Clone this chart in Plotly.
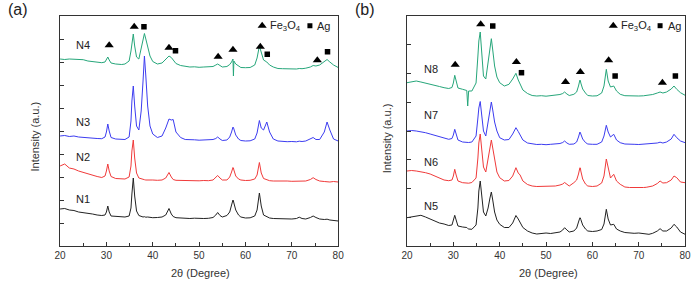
import plotly.graph_objects as go

# ---------------- data ----------------
two_theta = [
    20, 21, 22, 23, 24, 25, 26, 27, 28, 29,
    29.7, 30.0, 30.3, 30.6, 31.0, 32, 32.9, 33.1, 33.3, 34,
    34.9, 35.3, 35.5, 35.8, 36.1, 36.5, 37.0, 37.5, 37.9, 38.2,
    38.5, 38.9, 39.4, 40, 41, 42, 42.8, 43.5, 44.0, 44.4,
    45, 46, 47, 48, 49, 50, 51, 52, 53, 53.6,
    54.0, 54.5, 55, 56, 56.6, 57.0, 57.3, 57.4, 57.5, 57.9,
    58.5, 59, 60, 61, 62, 62.5, 63.0, 63.4, 63.9, 64.6,
    65.2, 66, 67, 68, 69, 70, 71, 71.6, 72.2, 73,
    74, 74.6, 75.2, 76, 77, 77.6, 78.2, 79, 80,
]

N1 = [
    37, 37.5, 36, 35.5, 34, 33.5, 32.7, 32, 31, 30.5,
    31, 34, 40, 34, 30, 29.5, 29, 29.3, 28.8, 29,
    30, 38, 52, 68, 50, 35, 30.5, 29.5, 29, 29.3,
    28.8, 29, 28.5, 28.3, 28.5, 29, 31, 37.5, 32, 29.5,
    28.3, 27.8, 28, 27.5, 27.8, 27.3, 27.5, 27.7, 28.5, 31,
    33.5, 30.5, 29, 30.5, 34, 41, 46, 45, 43, 36,
    31, 29, 28, 28.2, 30, 36, 53, 40, 31, 29,
    28, 27.5, 27.3, 27, 27.3, 27, 27.5, 28.8, 27.5, 27,
    28.5, 30, 28.5, 27, 26.5, 26.8, 26, 25.5, 25,
]
N2 = [
    80, 82, 78, 77, 75, 73.5, 72, 70.5, 69.5, 68.5,
    70, 75, 82, 75, 69.5, 67.5, 67, 67.3, 67, 67,
    69, 80, 95, 106, 88, 73, 68, 67, 66.5, 66.3,
    66, 66.2, 65.8, 66, 65.7, 66, 68, 73.5, 69, 66.5,
    65.7, 65.5, 65.8, 65.3, 65.5, 65.2, 65.5, 65.3, 66, 68.5,
    70.5, 68, 66, 66, 69, 74, 78.5, 78, 76, 70,
    67, 66, 65.5, 65.7, 67, 71, 83.5, 73, 67.5, 66,
    65.3, 65, 65.2, 64.8, 65, 64.7, 65, 65.3, 65, 65,
    66.5, 68.3, 66.5, 65, 64.5, 64.3, 64, 64.5, 64,
]
N3 = [
    110, 110.5, 109.5, 110, 109, 108.5, 108.7, 108, 107.5, 107.3,
    109, 114, 122, 115, 108.5, 107, 106.5, 106.8, 106.3, 106.5,
    109, 125, 145, 160, 140, 120, 116, 135, 165, 190,
    170, 140, 120, 112, 108.5, 110, 118, 127, 126, 126.5,
    114, 108.5, 106.5, 106, 106.2, 105.8, 106, 106, 106.5, 107.5,
    109, 107, 105.5, 106, 109, 114, 119, 118.5, 117, 111,
    107, 105.5, 105, 105.2, 107, 113, 125.5, 118, 116, 124,
    114, 107, 105, 104.5, 104.3, 104.5, 104.2, 104.8, 104.5, 105,
    107, 108.5, 106.5, 106.5, 114, 124, 116, 107, 105,
]
N4 = [
    187, 186.5, 187, 186.7, 186, 186.3, 185, 184.5, 183.5, 183.3,
    184, 186, 189, 186, 183, 182, 181.5, 181.8, 181.5, 182,
    185, 195, 205, 212, 200, 189, 187, 197, 207, 212.5,
    207, 198, 190, 184.5, 182, 183, 187, 190, 188.5, 186,
    182.5, 180.5, 179.5, 179, 179.2, 178.7, 179, 179, 179.5, 181,
    182, 180.5, 179, 179.5, 181.5, 184, 187, 170, 185, 182,
    180, 178.5, 178.3, 178.5, 181, 188, 200, 193, 186, 184,
    181, 179, 177.5, 177.3, 177, 177.3, 177, 177.5, 177.3, 177.8,
    179, 180.5, 180, 181, 184, 186.5, 184, 181, 178.5,
]

N5 = [
    28.3, 29, 30, 30.7, 29, 27, 25.5, 23, 22, 20.5,
    21, 25, 30.7, 26, 20, 19, 18.5, 17.5, 17, 16.7,
    21, 38, 55, 65, 48, 34, 30, 38, 48, 54,
    46, 34, 26, 21.7, 18.5, 18.5, 23, 30.5, 27, 23,
    18.5, 15, 13, 12, 12.5, 13, 12.5, 13.3, 14, 16,
    18.3, 16, 14, 15, 18, 24, 28.3, 28, 26.5, 21,
    17, 15, 14.5, 15, 16.5, 22, 36.7, 27, 21, 21.7,
    17, 15, 13.5, 13, 12.7, 13, 12.5, 12, 11.7, 12.7,
    15, 17.3, 15, 15, 18, 21.7, 19, 14, 11.7,
]
N6 = [
    75, 75.5, 75, 74.5, 73.3, 72, 70, 68, 66, 65.3,
    66, 70, 76.7, 71, 65, 63.3, 63, 63.3, 62.8, 63.5,
    68, 88, 103, 112, 95, 79, 74, 86, 98, 106,
    98, 85, 74, 68.3, 65, 65.5, 70, 78.3, 73, 71,
    65, 61.5, 60, 59.5, 59.7, 59.3, 60, 60, 61, 62,
    63.5, 61.5, 60, 63.3, 66, 72, 78.3, 78, 75, 67,
    62, 60, 59.5, 60, 63, 70, 87, 77, 68, 71.7,
    65, 61.7, 59, 58.5, 58.3, 58, 58.5, 58.7, 59, 60,
    62.5, 65, 63, 63.3, 66, 70, 68.3, 64, 63.3,
]
N7 = [
    115, 115.5, 115, 114.5, 113.3, 112, 110.7, 109, 107.5, 106.7,
    107.5, 111, 116.7, 111, 106, 104, 103.5, 103.8, 103.5, 104,
    110, 128, 138, 144.5, 130, 115, 110, 123, 136, 144,
    136, 124, 115, 108.3, 106, 106.5, 112, 118.3, 114.5, 111.5,
    106, 103, 102, 101.5, 101.7, 101.3, 101.7, 101.8, 102.5, 103.5,
    105, 103, 101.7, 102, 104, 109, 114, 113.5, 112, 107,
    103.5, 102, 101.7, 101.7, 104, 110, 120.7, 114, 109, 111.7,
    106, 103.3, 102, 101.5, 101.7, 101.5, 101.7, 102, 102, 102.5,
    103, 103.8, 103, 104, 107, 111.7, 108.3, 105, 103.3,
]
N8 = [
    163.3, 164, 165, 164, 162.7, 162, 160.7, 159.5, 158.3, 157.5,
    158.5, 163, 170.7, 164, 158, 156.7, 155.5, 140, 155, 155,
    163, 190, 205, 214, 192, 170, 167, 183, 198, 207.3,
    196, 180, 169, 163.3, 160, 161.7, 167, 172.7, 166, 161.5,
    156, 152.5, 150.5, 150, 150.3, 149.8, 150.2, 150.5, 151.5, 152.5,
    154, 152, 150.5, 151.7, 154, 160, 166, 165.5, 163, 157,
    153, 150.5, 150, 150.2, 153, 160, 176.7, 165, 159, 160,
    155, 151.7, 150.3, 150, 149.8, 150, 150.2, 150.5, 150.8, 151.5,
    153, 154, 153, 154, 157, 160, 156.7, 153.3, 150.7,
]

# phase markers (position, height)
a_fe3o4_x = [30.6, 36.0, 43.5, 54.1, 57.3, 63.2, 75.5]
a_fe3o4_y = [200.7, 219.3, 198.3, 189.3, 196.3, 199.3, 185.7]
a_ag_x = [38.1, 44.9, 64.7, 77.7]
a_ag_y = [219.3, 195.3, 191.7, 194.3]
b_fe3o4_x = [30.4, 35.9, 43.6, 54.2, 57.4, 63.5, 75.1]
b_fe3o4_y = [181.3, 221.7, 184, 164, 174, 185.7, 163.3]
b_ag_x = [38.5, 44.7, 64.9, 77.9]
b_ag_y = [220, 173.3, 170, 170]

# in-plot legends
a_leg_x = [63.6, 73.9]
b_leg_x = [64.5, 74.6]
leg_y = [220.3, 220.3]

# sample labels
a_names = ["N1", "N2", "N3", "N4"]
a_label_y = [47.3, 89, 124, 200.7]
b_names = ["N5", "N6", "N7", "N8"]
b_label_y = [40, 84.3, 130.7, 177.3]

x_ticks = [20, 30, 40, 50, 60, 70, 80]

# ---------------- styling ----------------
colors = ["#222222", "#f03a3a", "#3c3cf0", "#26a67a"]
FONT = "Arial, Liberation Sans, sans-serif"

fig = go.Figure()

panel_a = [N1, N2, N3, N4]
panel_b = [N5, N6, N7, N8]

for ys, c in zip(panel_a, colors):
    fig.add_trace(go.Scatter(x=two_theta, y=ys, mode="lines",
                             line=dict(color=c, width=1), xaxis="x", yaxis="y",
                             showlegend=False, hoverinfo="skip"))
for ys, c in zip(panel_b, colors):
    fig.add_trace(go.Scatter(x=two_theta, y=ys, mode="lines",
                             line=dict(color=c, width=1), xaxis="x2", yaxis="y2",
                             showlegend=False, hoverinfo="skip"))

def marks(xs, ys, sym, size, xa, ya):
    fig.add_trace(go.Scatter(x=xs, y=ys, mode="markers", xaxis=xa, yaxis=ya,
                             marker=dict(symbol=sym, size=size, color="black",
                                         line=dict(width=0)),
                             showlegend=False, hoverinfo="skip"))

marks(a_fe3o4_x, a_fe3o4_y, "triangle-up", 8, "x", "y")
marks(a_ag_x, a_ag_y, "square", 5.5, "x", "y")
marks(b_fe3o4_x, b_fe3o4_y, "triangle-up", 8, "x2", "y2")
marks(b_ag_x, b_ag_y, "square", 5.5, "x2", "y2")
# legend symbols
marks([a_leg_x[0]], [leg_y[0]], "triangle-up", 8, "x", "y")
marks([a_leg_x[1]], [leg_y[1]], "square", 5, "x", "y")
marks([b_leg_x[0]], [leg_y[0]], "triangle-up", 8, "x2", "y2")
marks([b_leg_x[1]], [leg_y[1]], "square", 5, "x2", "y2")

W, H = 698, 281
ax_a = (55 / W, 338 / W)
ax_b = (408 / W, 691 / W)
ydom = (1 - 246 / H, 1 - 16 / H)

xcommon = dict(range=[20, 80], tickvals=x_ticks, ticks="inside", ticklen=4,
               tickwidth=1, tickcolor="#333", showline=True, linecolor="#333",
               linewidth=1, mirror=True, showgrid=False, zeroline=False,
               tickfont=dict(family=FONT, size=10, color="#333"),
               minor=dict(dtick=5, tick0=20, ticks="inside", ticklen=3,
                          tickcolor="#333", showgrid=False))
fig.update_layout(
    width=W, height=H, margin=dict(l=0, r=0, t=0, b=0),
    paper_bgcolor="white", plot_bgcolor="white",
    xaxis=dict(domain=ax_a, anchor="y", **xcommon),
    xaxis2=dict(domain=ax_b, anchor="y2", **xcommon),
    yaxis=dict(domain=ydom, anchor="x", range=[0, 230], tick0=0, dtick=23,
               ticks="inside", ticklen=4, tickcolor="#333", showticklabels=False,
               showline=True, linecolor="#333", linewidth=1, mirror=True,
               showgrid=False, zeroline=False),
    yaxis2=dict(domain=ydom, anchor="x2", range=[0, 230], tick0=0, dtick=28.75,
                ticks="inside", ticklen=4, tickcolor="#333", showticklabels=False,
                showline=True, linecolor="#333", linewidth=1, mirror=True,
                showgrid=False, zeroline=False),
)

ann = []
def text(x, y, s, xref, yref, size=11, xanchor="center", angle=0, color="#222"):
    ann.append(dict(x=x, y=y, text=s, xref=xref, yref=yref, showarrow=False,
                    xanchor=xanchor, yanchor="middle", textangle=angle,
                    font=dict(family=FONT, size=size, color=color)))

for n, yv in zip(a_names, a_label_y):
    text(25.0, yv, n, "x", "y", size=11)
for n, yv in zip(b_names, b_label_y):
    text(25.1, yv, n, "x2", "y2", size=11)

text(a_leg_x[0] + 1.2, leg_y[0], "Fe<sub>3</sub>O<sub>4</sub>", "x", "y", size=11, xanchor="left")
text(a_leg_x[1] + 1.2, leg_y[1], "Ag", "x", "y", size=11, xanchor="left")
text(b_leg_x[0] + 1.2, leg_y[0], "Fe<sub>3</sub>O<sub>4</sub>", "x2", "y2", size=11, xanchor="left")
text(b_leg_x[1] + 1.2, leg_y[1], "Ag", "x2", "y2", size=11, xanchor="left")

text(198 / W, 1 - 273 / H, "2θ (Degree)", "paper", "paper", size=11, color="#333")
text(552 / W, 1 - 273 / H, "2θ (Degree)", "paper", "paper", size=11, color="#333")
text(30 / W, 1 - 136 / H, "Intensity (a.u.)", "paper", "paper", size=11, angle=-90, color="#333")
text(388 / W, 1 - 138 / H, "Intensity (a.u.)", "paper", "paper", size=11, angle=-90, color="#333")
text(12 / W, 1 - 9 / H, "(a)", "paper", "paper", size=16, color="#222")
text(365 / W, 1 - 9 / H, "(b)", "paper", "paper", size=16, color="#222")

fig.update_layout(annotations=ann)
fig.write_html("out.html", config={"displayModeBar": False},
               post_script="document.body.style.margin='0';document.body.style.overflow='hidden';")
